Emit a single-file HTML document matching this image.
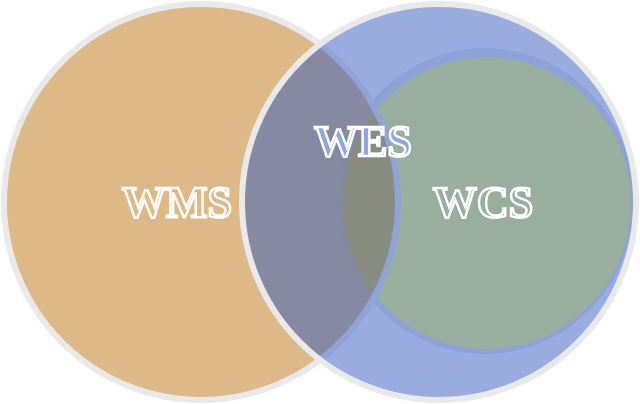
<!DOCTYPE html>
<html><head><meta charset="utf-8"><style>
html,body{margin:0;padding:0;background:#fff;width:640px;height:404px;overflow:hidden}
text{font-family:"Liberation Serif",serif;font-weight:bold;font-size:44px;stroke:#fff;stroke-width:2.4}
</style></head><body>
<svg width="640" height="404" viewBox="0 0 640 404" xmlns="http://www.w3.org/2000/svg">
<defs>
<clipPath id="L"><ellipse cx="201" cy="202" rx="197" ry="198"/></clipPath>
<clipPath id="R"><ellipse cx="439" cy="202" rx="197" ry="198"/></clipPath>
</defs>
<ellipse cx="201" cy="202" rx="197" ry="198" fill="#dcb987" stroke="#e9e9e9" stroke-width="6"/>
<ellipse cx="439" cy="202" rx="197" ry="198" fill="#98ace0"/>
<ellipse cx="439" cy="202" rx="197" ry="198" fill="#8789a2" clip-path="url(#L)"/>
<ellipse cx="485" cy="201" rx="149" ry="153" fill="#8ca2d6"/>
<ellipse cx="487" cy="203" rx="144" ry="146" fill="#98ae9e"/>
<g clip-path="url(#L)">
<ellipse cx="485" cy="201" rx="149" ry="153" fill="#838aa0"/>
<ellipse cx="487" cy="203" rx="144" ry="146" fill="#888b7f"/>
</g>
<ellipse cx="201" cy="202" rx="197" ry="198" fill="none" stroke="#8ea3d8" stroke-width="6" clip-path="url(#R)"/>
<ellipse cx="439" cy="202" rx="197" ry="198" fill="none" stroke="#e9e9e9" stroke-width="6"/>
<text x="177" y="217" text-anchor="middle" fill="#dcb987">WMS</text>
<text x="363" y="156" text-anchor="middle" fill="#8fa6e0">WES</text>
<text x="483" y="217" text-anchor="middle" fill="#98ae9e">WCS</text>
</svg>
</body></html>
